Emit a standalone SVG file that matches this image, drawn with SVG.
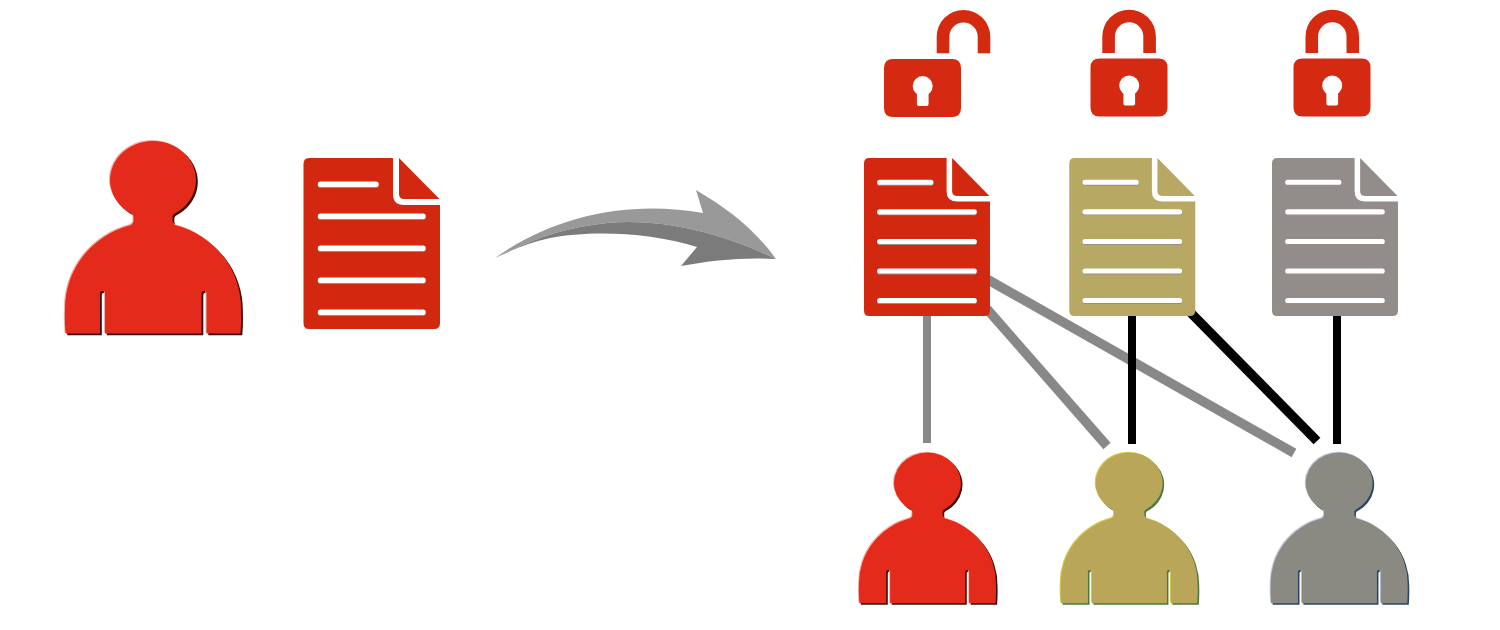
<svg xmlns="http://www.w3.org/2000/svg" width="1500" height="630" viewBox="0 0 1500 630">
<style>
.conn{fill:none;stroke-width:8}
.wide{stroke-width:9.500}
.g{stroke:#888888}.k{stroke:#000000}
.red{fill:#e32a1b}.tan{fill:#b9a659}.gry{fill:#8a8a82}
.lk{fill:#d42a11}.hole{fill:#ffffff}
.dl{stroke:#ffffff;stroke-width:5.500;stroke-linecap:round;fill:none}
.ds{stroke:#9a8f88;stroke-width:5.500;stroke-linecap:round;fill:none}
</style>
<defs>
<path id="person" d="M65.500 333.500Q64.500 320 65 310A88 86 0 0 1 131 225Q134 223 133.500 220L133.500 217Q133.500 215 132 214A43 39 0 1 1 174 214Q172.500 215 172.500 217L172.500 220Q172.500 223 175 225A88 86 0 0 1 241 310Q241.500 320 240.500 333.500L206.500 333.500L206.500 293Q206.500 291 204 291Q201.500 291 201.500 293L201.500 333.500L105 333.500L105 293Q105 291 102.500 291Q100 291 100 293L100 333.500Z"/>
<g id="doclines">
<path class="ds" d="M320.500 185.300H376M320.500 217.300H423M320.500 249.300H423M320.500 281.300H423M320.500 313.300H423"/>
<path class="dl" d="M320.500 184.300H376M320.500 216.300H423M320.500 248.300H423M320.500 280.300H423M320.500 312.300H423"/>
</g>
<path id="docbody" d="M309 158L393 158L393 194Q393 205 404 205L440 205L440 323Q440 329 434 329L309 329Q303.500 329 303.500 323L303.500 164Q303.500 158 309 158Z"/>
<path id="docfold" d="M399 158L439.500 199L404 199Q399 199 399 194Z"/>
<g id="doc">
<use href="#docbody"/><use href="#docfold"/><use href="#doclines"/>
</g>
<g id="lockbody">
<path class="lk" d="M9 0H68Q77 0 77 9V49Q77 58 68 58H9Q0 58 0 49V9Q0 0 9 0Z"/>
<circle class="hole" cx="38.700" cy="27" r="10"/>
<rect class="hole" x="32.900" y="28" width="11.700" height="19" rx="2"/>
</g>
<path id="shackle" class="lk" d="M0 43.500V27A26.800 26.800 0 0 1 53.600 27V43.500H41V27A14.200 14.200 0 0 0 12.600 27V43.500Z"/>
</defs>
<rect width="1500" height="630" fill="#ffffff"/>

<g id="connectors">
<path class="conn g" d="M927 316V443"/>
<path class="conn g wide" d="M987 309L1107 446"/>
<path class="conn g wide" d="M985 278L1294 453"/>
<path class="conn k" d="M1132 316V444"/>
<path class="conn k wide" d="M1190 312L1317 441"/>
<path class="conn k" d="M1337 316V444"/>
</g>

<g id="person-owner">
<use href="#person" transform="translate(1.800 1.800)" fill="#3a0a05"/>
<use href="#person" transform="translate(-1 -1)" fill="#f2b0a4"/>
<use href="#person" class="red"/>
</g>
<g id="doc-owner" fill="#d2280f">
<use href="#doc"/>
</g>

<g id="arrow">
<path fill="#999999" d="M495 258C555 215 630 200 703 213L696 190C730 210 755 230 776 259C720 232 660 218 607 223C565 227 530 240 495 258Z"/>
<path fill="#7b7b7b" d="M495 258C530 240 565 227 607 223C660 218 720 232 776 259C745 257 712 260 681 266L697 247C650 232 590 230 550 238C530 242 512 250 495 258Z"/>
</g>

<g id="lock-open">
<use href="#lockbody" transform="translate(884 59)"/>
<use href="#shackle" transform="translate(936.700 9.800)"/>
</g>
<g id="lock-closed-1">
<use href="#lockbody" transform="translate(1090.500 58.500)"/>
<use href="#shackle" transform="translate(1102.300 9.500)"/>
</g>
<g id="lock-closed-2">
<use href="#lockbody" transform="translate(1293.500 58.500)"/>
<use href="#shackle" transform="translate(1305.500 9.500)"/>
</g>

<g id="doc-red" fill="#d2280f"><use href="#doc" transform="translate(864 158) scale(.923 .924) translate(-303.500 -158)"/></g>
<g id="doc-tan" fill="#b7a864"><use href="#doc" transform="translate(1069.300 158) scale(.923 .924) translate(-303.500 -158)"/></g>
<g id="doc-gray" fill="#928d8a"><use href="#doc" transform="translate(1272 158) scale(.923 .924) translate(-303.500 -158)"/></g>

<g id="person-red" transform="translate(859 453) scale(.778 .782) translate(-65 -141.500)">
<use href="#person" transform="translate(2 2)" fill="#3a0a05"/>
<use href="#person" transform="translate(-1.200 -1.200)" fill="#f2b0a4"/>
<use href="#person" class="red"/>
</g>
<g id="person-tan" transform="translate(1060.700 453) scale(.778 .782) translate(-65 -141.500)">
<use href="#person" transform="translate(2 2)" fill="#4a7a40"/>
<use href="#person" transform="translate(-1.200 -1.200)" fill="#d8cc50"/>
<use href="#person" class="tan"/>
</g>
<g id="person-gray" transform="translate(1270.700 453) scale(.778 .782) translate(-65 -141.500)">
<use href="#person" transform="translate(2 2)" fill="#2c4468"/>
<use href="#person" transform="translate(-1.200 -1.200)" fill="#c4c8dc"/>
<use href="#person" class="gry"/>
</g>
</svg>
